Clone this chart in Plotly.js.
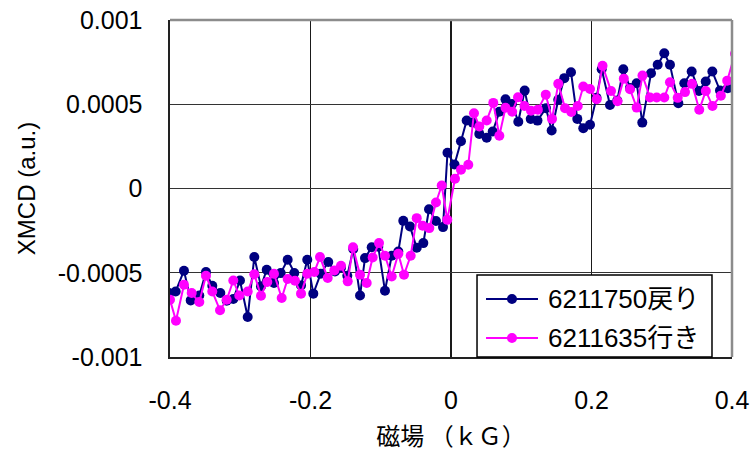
<!DOCTYPE html>
<html>
<head>
<meta charset="utf-8">
<script src="https://cdn.plot.ly/plotly-3.0.1.min.js"></script>
<style>html,body{margin:0;padding:0;background:#fff;}#chart{width:752px;height:457px;}</style>
</head>
<body>
<div id="chart"></div>
<script>
// Series 1: 6211750戻り (navy)
const fieldBack = [-0.4114,-0.4014,-0.3919,-0.3801,-0.3705,-0.3583,-0.3488,-0.3398,-0.3284,-0.3193,-0.3099,-0.3004,-0.2894,-0.2800,-0.2705,-0.2623,-0.2520,-0.2424,-0.2325,-0.2231,-0.2135,-0.2046,-0.1960,-0.1855,-0.1747,-0.1651,-0.1566,-0.1476,-0.1391,-0.1295,-0.1224,-0.1129,-0.1035,-0.0940,-0.0844,-0.0750,-0.0679,-0.0584,-0.0488,-0.0394,-0.0313,-0.0214,-0.0114,-0.0050,0.0050,0.0142,0.0223,0.0309,0.0403,0.0508,0.0594,0.0688,0.0776,0.0868,0.0958,0.1049,0.1135,0.1231,0.1352,0.1433,0.1527,0.1613,0.1708,0.1798,0.1883,0.1979,0.2071,0.2145,0.2263,0.2367,0.2453,0.2548,0.2643,0.2723,0.2847,0.2942,0.3036,0.3117,0.3236,0.3321,0.3426,0.3530,0.3626,0.3720,0.3829,0.3939,0.4043,0.4142];
const xmcdBack = [-0.000690,-0.000619,-0.000611,-0.000488,-0.000664,-0.000635,-0.000496,-0.000577,-0.000620,-0.000666,-0.000656,-0.000546,-0.000763,-0.000407,-0.000581,-0.000482,-0.000561,-0.000502,-0.000423,-0.000502,-0.000575,-0.000423,-0.000624,-0.000506,-0.000436,-0.000492,-0.000470,-0.000518,-0.000359,-0.000635,-0.000413,-0.000349,-0.000346,-0.000607,-0.000399,-0.000374,-0.000192,-0.000225,-0.000352,-0.000324,-0.000123,-0.000193,-0.000229,0.000212,0.000142,0.000280,0.000404,0.000391,0.000324,0.000301,0.000338,0.000455,0.000529,0.000502,0.000396,0.000581,0.000412,0.000403,0.000477,0.000344,0.000526,0.000655,0.000690,0.000413,0.000358,0.000378,0.000538,0.000708,0.000496,0.000522,0.000708,0.000597,0.000625,0.000391,0.000684,0.000734,0.000803,0.000734,0.000506,0.000625,0.000694,0.000579,0.000635,0.000694,0.000581,0.000595,0.000585,0.000556];

// Series 2: 6211635行き (magenta)
const fieldFwd = [-0.4000,-0.3915,-0.3801,-0.3691,-0.3583,-0.3488,-0.3398,-0.3288,-0.3193,-0.3099,-0.3014,-0.2894,-0.2800,-0.2705,-0.2615,-0.2520,-0.2410,-0.2325,-0.2221,-0.2135,-0.2046,-0.1946,-0.1865,-0.1755,-0.1661,-0.1566,-0.1470,-0.1395,-0.1295,-0.1200,-0.1115,-0.1025,-0.0940,-0.0844,-0.0750,-0.0669,-0.0574,-0.0488,-0.0403,-0.0309,-0.0214,-0.0132,-0.0053,0.0057,0.0142,0.0246,0.0327,0.0403,0.0508,0.0602,0.0688,0.0776,0.0871,0.0954,0.1046,0.1139,0.1236,0.1349,0.1438,0.1527,0.1623,0.1712,0.1804,0.1883,0.1979,0.2074,0.2157,0.2278,0.2370,0.2460,0.2548,0.2643,0.2726,0.2833,0.2928,0.3036,0.3117,0.3227,0.3331,0.3431,0.3534,0.3627,0.3722,0.3841,0.3932,0.4043,0.4142];
const xmcdFwd = [-0.000660,-0.000785,-0.000571,-0.000620,-0.000674,-0.000518,-0.000611,-0.000723,-0.000660,-0.000546,-0.000635,-0.000611,-0.000509,-0.000636,-0.000555,-0.000506,-0.000650,-0.000537,-0.000547,-0.000624,-0.000506,-0.000496,-0.000407,-0.000531,-0.000486,-0.000458,-0.000551,-0.000349,-0.000512,-0.000561,-0.000409,-0.000324,-0.000399,-0.000522,-0.000387,-0.000512,-0.000399,-0.000176,-0.000221,-0.000235,-0.000083,0.000018,-0.000186,0.000058,0.000111,0.000141,0.000447,0.000368,0.000404,0.000508,0.000313,0.000479,0.000455,0.000542,0.000490,0.000461,0.000468,0.000557,0.000413,0.000621,0.000477,0.000454,0.000490,0.000605,0.000591,0.000530,0.000728,0.000579,0.000518,0.000652,0.000589,0.000480,0.000670,0.000540,0.000540,0.000540,0.000631,0.000538,0.000572,0.000621,0.000467,0.000579,0.000490,0.000551,0.000640,0.000800,0.000600];

const seriesNames = ['6211750戻り', '6211635行き'];
const seriesColors = ['#000080', '#FF00FF'];
const xTickVals = [-0.4, -0.2, 0, 0.2, 0.4];
const xTickText = ['-0.4', '-0.2', '0', '0.2', '0.4'];
const yTickVals = [-0.001, -0.0005, 0, 0.0005, 0.001];
const yTickText = ['-0.001', '-0.0005', '0', '0.0005', '0.001'];

const FONT = 'Liberation Sans, Arial, Noto Sans CJK JP, sans-serif';

const traces = [
  {x: fieldBack, y: xmcdBack, name: seriesNames[0], type: 'scatter', mode: 'lines+markers',
   line: {color: seriesColors[0], width: 2}, marker: {color: seriesColors[0], size: 10}},
  {x: fieldFwd, y: xmcdFwd, name: seriesNames[1], type: 'scatter', mode: 'lines+markers',
   line: {color: seriesColors[1], width: 2}, marker: {color: seriesColors[1], size: 10}}
];

// legend box drawn as shapes + annotations (paper coordinates of the plot area)
const legBox = {x0: 0.5463, x1: 0.9644, y0: 0.0, y1: 0.2433};
const legRowsY = [0.1721, 0.0564];
const legLine = {x0: 0.5623, x1: 0.6548, xm: 0.6085, xt: 0.6690};

const shapes = [
  {type: 'line', xref: 'paper', yref: 'paper', x0: 0, x1: 1, y0: 1, y1: 1,
   line: {color: '#8c8c8c', width: 2.5}, layer: 'above'},
  {type: 'line', xref: 'paper', yref: 'paper', x0: 1, x1: 1, y0: 0, y1: 1,
   line: {color: '#8c8c8c', width: 2.5}, layer: 'above'},
  {type: 'rect', xref: 'paper', yref: 'paper', x0: legBox.x0, x1: legBox.x1, y0: legBox.y0, y1: legBox.y1,
   fillcolor: '#fff', line: {color: '#000', width: 1.5}, layer: 'above'}
];
const annotations = [];
seriesNames.forEach((nm, i) => {
  shapes.push({type: 'line', xref: 'paper', yref: 'paper', x0: legLine.x0, x1: legLine.x1,
    y0: legRowsY[i], y1: legRowsY[i], line: {color: seriesColors[i], width: 2}, layer: 'above'});
  shapes.push({type: 'circle', xref: 'paper', yref: 'paper', xsizemode: 'pixel', ysizemode: 'pixel',
    xanchor: legLine.xm, yanchor: legRowsY[i], x0: -5, x1: 5, y0: -5, y1: 5,
    fillcolor: seriesColors[i], line: {color: seriesColors[i], width: 0}, layer: 'above'});
  annotations.push({xref: 'paper', yref: 'paper', x: legLine.xt, y: legRowsY[i], xanchor: 'left', yanchor: 'middle',
    text: nm, showarrow: false, font: {size: 26, family: FONT, color: '#000'}});
});

const layout = {
  width: 752, height: 457,
  margin: {l: 170, r: 20, t: 20, b: 100},
  paper_bgcolor: '#fff', plot_bgcolor: '#fff',
  font: {family: FONT, color: '#000', size: 25},
  showlegend: false,
  xaxis: {
    range: [-0.4, 0.4], tickmode: 'array', tickvals: xTickVals, ticktext: xTickText,
    showgrid: true, gridcolor: '#1a1a1a', gridwidth: 1.3, zeroline: false,
    showline: true, linecolor: '#222', linewidth: 2, ticks: '',
    tickfont: {size: 25, family: FONT}, ticklabelstandoff: 20,
    title: {text: '磁場 （ｋＧ）', font: {size: 24, family: 'Noto Sans CJK JP, ' + FONT}, standoff: 15},
    automargin: false, fixedrange: true
  },
  yaxis: {
    range: [-0.001, 0.001], tickmode: 'array', tickvals: yTickVals, ticktext: yTickText,
    showgrid: true, gridcolor: '#333', gridwidth: 1.3, zeroline: false,
    showline: true, linecolor: '#222', linewidth: 2.5, ticks: '',
    tickfont: {size: 25, family: FONT}, ticklabelstandoff: 20,
    title: {text: 'XMCD (a.u.)', font: {size: 24, family: FONT}, standoff: 16},
    automargin: false, fixedrange: true
  },
  shapes: shapes,
  annotations: annotations
};

Plotly.newPlot('chart', traces, layout, {displayModeBar: false, staticPlot: true});
</script>
</body>
</html>
